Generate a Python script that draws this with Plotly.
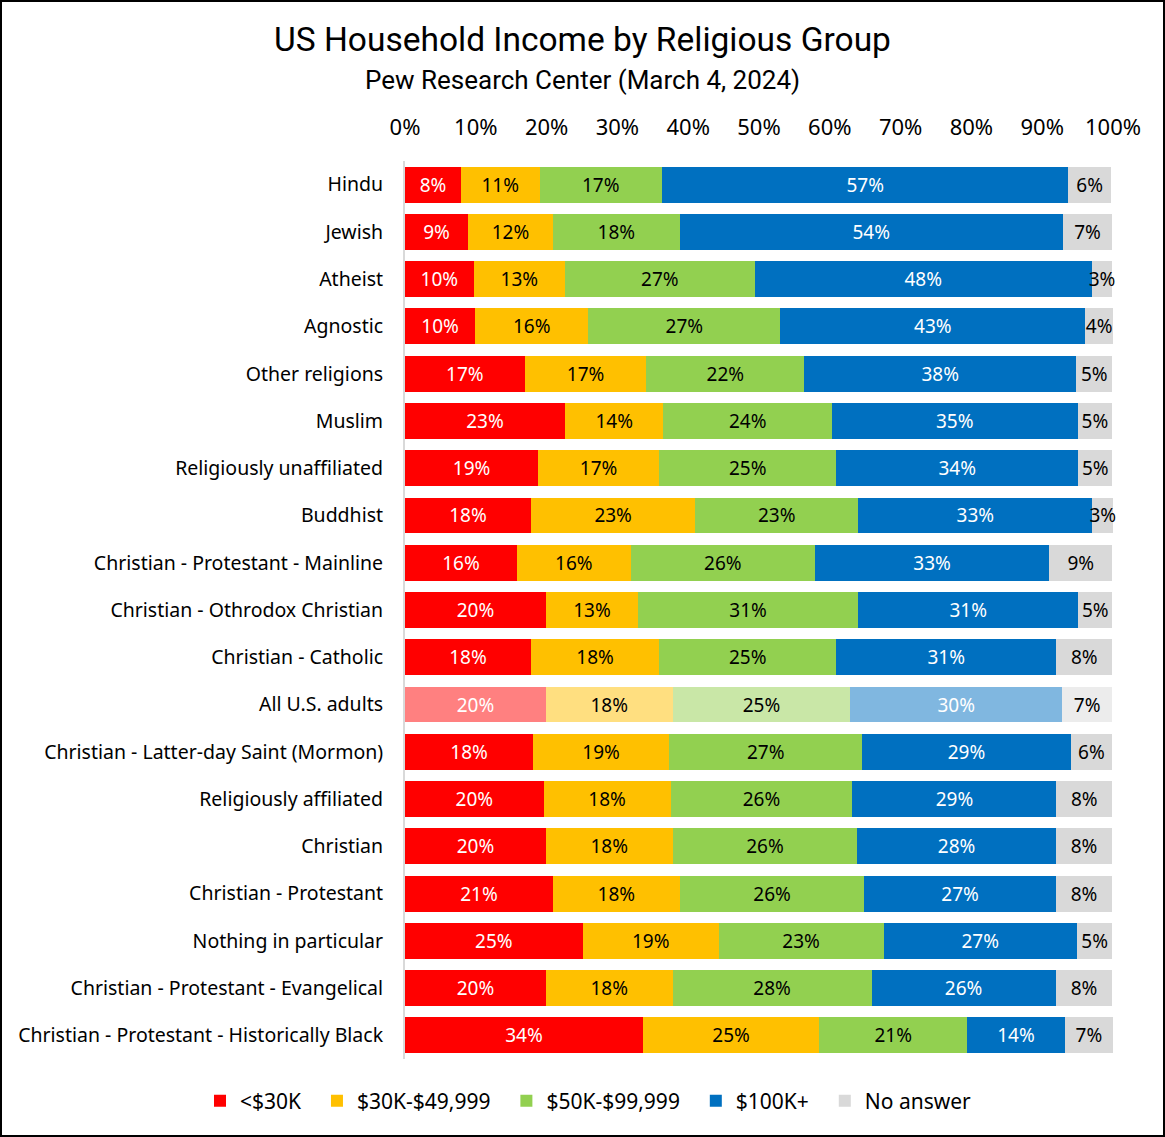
import plotly.graph_objects as go

groups = [
    "Hindu", "Jewish", "Atheist", "Agnostic", "Other religions", "Muslim",
    "Religiously unaffiliated", "Buddhist", "Christian - Protestant - Mainline",
    "Christian - Othrodox Christian", "Christian - Catholic", "All U.S. adults",
    "Christian - Latter-day Saint (Mormon)", "Religiously affiliated", "Christian",
    "Christian - Protestant", "Nothing in particular",
    "Christian - Protestant - Evangelical",
    "Christian - Protestant - Historically Black",
]

under_30k = [7.9, 8.9, 9.7, 9.9, 16.9, 22.6, 18.8, 17.8, 15.8, 19.9, 17.8, 19.9,
             18.1, 19.6, 19.9, 20.9, 25.1, 19.9, 33.6]
k30_50 = [11.1, 12.0, 12.9, 16.0, 17.2, 13.9, 17.1, 23.2, 16.1, 13.0, 18.1, 17.9,
          19.2, 17.9, 17.9, 17.9, 19.2, 17.9, 24.9]
k50_100 = [17.3, 17.9, 26.8, 27.1, 22.3, 23.8, 25.0, 23.0, 26.0, 31.1, 25.0, 25.1,
           27.3, 25.7, 26.1, 26.1, 23.3, 28.1, 20.9]
k100_plus = [57.4, 54.1, 47.6, 43.1, 38.4, 34.7, 34.2, 33.1, 33.1, 31.1, 31.1, 29.9,
             29.4, 28.8, 28.0, 27.0, 27.3, 26.0, 13.8]
no_answer = [6.0, 7.0, 2.9, 3.9, 5.1, 4.9, 4.8, 2.9, 8.9, 4.8, 7.9, 7.1,
             5.9, 7.9, 8.0, 8.0, 5.0, 8.0, 6.8]

series = [
    ("<$30K", under_30k, "#FF0000", "#FF8080", "white"),
    ("$30K-$49,999", k30_50, "#FFC000", "#FFDF80", "black"),
    ("$50K-$99,999", k50_100, "#92D050", "#C9E7A7", "black"),
    ("$100K+", k100_plus, "#0070C0", "#80B7E0", "white"),
    ("No answer", no_answer, "#D9D9D9", "#ECECEC", "black"),
]

FONT = "Noto Sans"
TITLE_FONT = "Roboto"
highlight = "All U.S. adults"
PAD = "\u00a0\u00a0"  # widen the gap between legend entries

fig = go.Figure()
for i, (name, vals, col, light, tcol) in enumerate(series):
    colors = [light if g == highlight else col for g in groups]
    fig.add_trace(go.Bar(
        y=groups, x=vals, name=name + (PAD if i < len(series) - 1 else ""),
        orientation="h",
        marker=dict(color=colors, line=dict(width=0)),
        texttemplate="%{x:.0f}%", textposition="inside",
        insidetextanchor="middle", textangle=0, constraintext="none",
        textfont=dict(family=FONT, size=19, color=tcol),
        cliponaxis=False, hoverinfo="skip",
    ))

W, H = 1165, 1137
ml, mr, mt, mb = 405, 52, 161, 78
pw, ph = W - ml - mr, H - mt - mb

fig.update_layout(
    barmode="stack", bargap=0.24,
    width=W, height=H,
    margin=dict(l=ml, r=mr, t=mt, b=mb, pad=0, autoexpand=False),
    paper_bgcolor="white", plot_bgcolor="white",
    font=dict(family=FONT, size=19, color="black"),
    xaxis=dict(side="top", range=[0, 100], dtick=10, ticksuffix="%",
               showgrid=False, zeroline=False, showline=False,
               ticks="outside", ticklen=16, tickcolor="white",
               tickfont=dict(family=FONT, size=22)),
    yaxis=dict(autorange="reversed", showgrid=False, zeroline=False,
               showline=True, linecolor="#D9D9D9", linewidth=2,
               ticks="", ticklabelstandoff=16,
               tickfont=dict(family=FONT, size=19.5)),
    legend=dict(orientation="h", x=(200 - ml) / pw, xanchor="left",
                y=-(1101 - (H - mb)) / ph, yanchor="middle",
                bgcolor="rgba(0,0,0,0)",
                font=dict(family=FONT, size=21), traceorder="normal",
                itemwidth=30),
    showlegend=True,
)

fig.add_annotation(text="US Household Income by Religious Group",
                   xref="paper", yref="paper", x=(582 - ml) / pw,
                   y=((H - mb) - 40) / ph, showarrow=False,
                   font=dict(family=TITLE_FONT, size=33.5),
                   xanchor="center", yanchor="middle")
fig.add_annotation(text="Pew Research Center (March 4, 2024)",
                   xref="paper", yref="paper", x=(582 - ml) / pw,
                   y=((H - mb) - 80) / ph, showarrow=False,
                   font=dict(family=TITLE_FONT, size=26),
                   xanchor="center", yanchor="middle")

# black frame round the whole picture
fig.add_shape(type="rect", xref="paper", yref="paper",
              x0=(1 - ml) / pw, x1=(W - 1 - ml) / pw,
              y0=-(mb - 1) / ph, y1=(H - mb - 1) / ph,
              line=dict(color="black", width=2), layer="above")

fig.write_html("out.html", config={"displayModeBar": False},
               post_script="document.body.style.margin='0px';")
